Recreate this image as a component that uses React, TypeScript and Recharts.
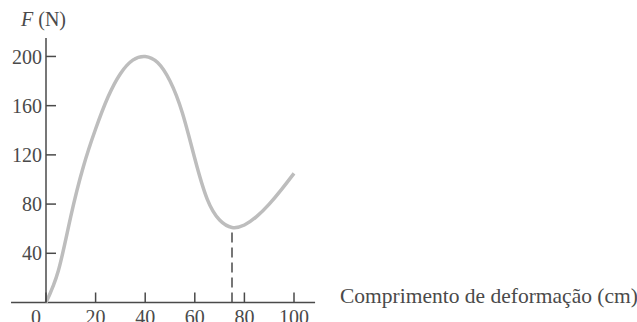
import React from 'react';
import { LineChart, Line, XAxis, YAxis, ReferenceLine } from 'recharts';

const deformation = [0, 5, 10, 15, 20, 25, 30, 35, 40, 45, 50, 55, 60, 65, 70, 75, 80, 85, 90, 95, 100];
const force = [0, 26, 70, 110, 141, 167, 186, 197, 200, 195, 180, 154, 117, 84, 67, 61, 63, 70, 80, 92, 105];
const xTicks = [0, 20, 40, 60, 80, 100];
const yTicks = [40, 80, 120, 160, 200];
const minimumPoint = { x: 75, f: 61 };
const xAxisExtent = [-14.1, 108.5];
const xTitle = 'Comprimento de deformação (cm)';
const yTitleSymbol = 'F';
const yTitleUnit = ' (N)';

const data = deformation.map((x, i) => ({ x, f: force[i] }));

const INK = '#4a4a4a';
const FONT = '"Liberation Serif", "DejaVu Serif", serif';

const XTick = (props: any) => {
  const { x, y, payload } = props;
  const shift = payload.value === 0 ? -10 : 0;
  return (
    <text x={x + shift} y={y} dy="0.71em" textAnchor="middle" fontFamily={FONT} fontSize={20} fill={INK}>
      {payload.value}
    </text>
  );
};

const YTick = (props: any) => {
  const { x, y, payload } = props;
  return (
    <text x={x} y={y} dy="0.355em" textAnchor="end" fontFamily={FONT} fontSize={20} fill={INK}>
      {payload.value}
    </text>
  );
};

const XTitle = (props: any) => {
  const vb = props.viewBox;
  return (
    <text x={vb.x + vb.width + 46} y={vb.y} fontFamily={FONT} fontSize={21.5} fill={INK}>
      {xTitle}
    </text>
  );
};

const YTitle = (props: any) => {
  const vb = props.viewBox;
  return (
    <text x={vb.x + vb.width - 25} y={vb.y - 12} fontFamily={FONT} fontSize={20} fill={INK}>
      <tspan fontStyle="italic">{yTitleSymbol}</tspan>
      <tspan>{yTitleUnit}</tspan>
    </text>
  );
};

export default function App() {
  return (
    <div style={{ position: 'absolute', left: 0, top: 0, width: 637, height: 322, background: '#fff' }}>
      <LineChart width={637} height={322} data={data} margin={{ top: 38, right: 343, bottom: 0, left: 0 }}>
        <XAxis
          dataKey="x"
          type="number"
          domain={[0, 100]}
          ticks={xTicks}
          height={19.5}
          axisLine={false}
          tickSize={-10}
          tickMargin={17.5}
          tickLine={{ stroke: INK, strokeWidth: 1.5 }}
          tick={<XTick />}
          label={<XTitle />}
        />
        <YAxis
          type="number"
          domain={[0, 215]}
          ticks={yTicks}
          width={46}
          axisLine={{ stroke: INK, strokeWidth: 1.5 }}
          tickSize={-10}
          tickMargin={14}
          tickLine={{ stroke: INK, strokeWidth: 1.5 }}
          tick={<YTick />}
          label={<YTitle />}
        />
        <ReferenceLine
          segment={[{ x: xAxisExtent[0], y: 0 }, { x: xAxisExtent[1], y: 0 }]}
          ifOverflow="visible"
          stroke={INK}
          strokeWidth={1.5}
        />
        <ReferenceLine
          segment={[{ x: minimumPoint.x, y: 0 }, { x: minimumPoint.x, y: minimumPoint.f }]}
          ifOverflow="visible"
          stroke={INK}
          strokeWidth={1.5}
          strokeDasharray="10 5"
        />
        <Line
          type="natural"
          dataKey="f"
          stroke="#bdbdbd"
          strokeWidth={3.5}
          dot={false}
          isAnimationActive={false}
        />
      </LineChart>
    </div>
  );
}
